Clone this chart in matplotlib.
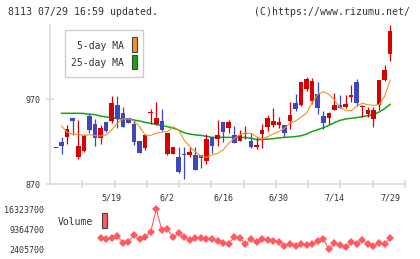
import numpy as np
import matplotlib
matplotlib.use("Agg")
import matplotlib.pyplot as plt
from matplotlib.patches import Rectangle
import matplotlib.transforms as mtransforms

# ---------------- data ----------------
opens = [913.0, 919.6, 925.9, 948.0, 902.3, 909.4, 950.3, 940.9, 924.7, 942.8,
         944.8, 963.3, 953.9, 948.0, 940.9, 920.8, 912.1, 953.5, 940.5, 944.8,
         905.9, 905.9, 901.5, 905.0, 904.3, 903.9, 904.7, 897.6, 925.1, 923.6,
         943.2, 936.5, 927.5, 921.2, 929.5, 920.8, 913.3, 929.5, 937.7, 939.7,
         939.3, 939.3, 944.8, 965.3, 962.9, 982.2, 968.0, 976.3, 950.3, 948.4,
         957.8, 963.3, 961.0, 972.8, 990.5, 960.6, 952.7, 947.2, 963.3, 992.8,
         1023.9]
highs = [913.0, 925.9, 939.7, 948.0, 945.6, 928.5, 953.5, 946.8, 939.7, 943.6,
         973.9, 973.9, 960.6, 948.0, 945.6, 920.8, 927.9, 958.6, 967.2, 958.6,
         930.3, 913.7, 914.1, 914.1, 913.3, 914.1, 904.7, 929.1, 925.1, 945.6,
         943.2, 945.6, 938.5, 933.8, 938.5, 929.9, 925.9, 940.9, 951.5, 959.4,
         948.7, 939.3, 966.9, 976.3, 990.5, 996.0, 994.8, 990.5, 956.2, 955.0,
         977.1, 975.1, 975.1, 986.9, 993.6, 963.3, 961.3, 960.6, 992.8, 1010.5,
         1057.8]
lows = [913.0, 905.5, 917.3, 927.9, 900.0, 907.8, 930.6, 915.3, 916.9, 931.4,
        941.7, 936.5, 936.9, 941.7, 916.5, 906.2, 910.2, 940.5, 939.3, 932.2,
        904.7, 905.9, 883.4, 876.3, 902.3, 886.6, 888.5, 893.7, 907.0, 914.9,
        920.0, 930.6, 918.8, 921.2, 923.6, 912.1, 911.0, 912.9, 933.0, 936.9,
        935.8, 925.1, 935.4, 956.6, 962.1, 980.2, 964.5, 952.7, 934.6, 940.5,
        957.8, 960.2, 959.4, 967.2, 962.1, 948.7, 948.7, 937.7, 957.4, 991.6,
        1015.7]
closes = [913.0, 914.9, 935.0, 944.8, 914.9, 927.9, 933.8, 924.0, 936.5, 932.2,
          965.7, 946.8, 936.9, 941.7, 920.0, 907.0, 927.9, 953.5, 948.4, 933.8,
          930.3, 913.7, 884.2, 904.3, 907.4, 886.6, 901.1, 923.2, 914.9, 927.9,
          931.8, 943.2, 918.8, 927.5, 929.5, 913.7, 916.1, 933.8, 948.0, 944.4,
          942.8, 930.6, 951.1, 958.6, 990.5, 993.6, 991.6, 960.2, 942.5, 953.5,
          963.3, 960.2, 964.5, 975.1, 966.1, 960.6, 957.4, 957.4, 992.8, 1004.6,
          1050.7]
ma5 = [np.nan, 938.5, 931.0, 928.7, 928.7, 927.1, 928.3, 927.1, 926.7, 927.9,
       933.8, 941.7, 946.8, 946.8, 944.4, 937.7, 927.9, 927.5, 929.9, 931.4,
       931.8, 937.7, 933.8, 922.0, 914.1, 908.2, 903.1, 901.5, 904.3, 906.2,
       910.2, 918.0, 924.0, 927.9, 929.9, 929.9, 925.9, 922.8, 925.9, 929.1,
       931.8, 935.8, 941.7, 944.4, 949.0, 954.0, 966.0, 976.0, 979.0, 976.0,
       969.0, 960.6, 956.6, 956.6, 962.1, 965.3, 963.7, 962.9, 963.7, 973.5,
       992.8]
ma25 = [np.nan, 953.5, 953.5, 953.5, 953.5, 953.3, 952.3, 952.0, 950.3, 949.1,
        948.7, 947.2, 947.0, 946.8, 945.6, 944.4, 942.8, 941.7, 940.5, 938.9,
        937.7, 936.2, 933.8, 930.5, 929.0, 928.0, 927.5, 926.3, 925.1, 925.1,
        925.1, 925.1, 925.1, 925.1, 925.0, 924.0, 922.5, 922.5, 923.0, 923.5,
        924.5, 925.0, 925.5, 926.0, 927.0, 929.0, 932.0, 934.2, 936.5, 939.3,
        942.5, 945.2, 946.8, 947.6, 948.4, 949.5, 950.7, 951.9, 955.0, 959.0,
        964.1]
vol_start = 8
volume = [6441920, 5990000, 6441920, 7030000, 4770000, 5050000, 7380000, 5890000,
          6580000, 8530000, 16323700, 9120000, 9470000, 6580000, 7970000, 6790000,
          5640000, 6230000, 6230000, 5890000, 5890000, 5400000, 4600000, 4250000,
          6790000, 6440000, 4250000, 5990000, 5050000, 5990000, 5640000, 5400000,
          5050000, 3660000, 4250000, 3660000, 4250000, 3900000, 4250000, 5400000,
          5990000, 2405700, 4490000, 3900000, 3100000, 5050000, 4250000, 5640000,
          4250000, 3660000, 4490000, 4250000, 6230000]
date_idx = [10, 20, 30, 40, 50, 60]
date_labels = ["5/19", "6/2", "6/16", "6/30", "7/14", "7/29"]
price_ticks = [870, 970]
vol_ticks = [2405700, 9364700, 16323700]
vol_tick_labels = ["2405700", "9364700", "16323700"]

# ---------------- style ----------------
W, H = 420, 259
UP = "#d70000"
DOWN = "#3f47bf"
ORANGE = "#f5911e"
GREEN = "#14a514"
VOLC = "#ff5a5f"
GRID = "#d9d9d9"
TXT = "#333333"
MONO = "DejaVu Sans Mono"

fig = plt.figure(figsize=(W / 100, H / 100), dpi=100)

def fx(px):
    return px / W

def fy(py):
    return 1 - py / H

# main price axes
ax = fig.add_axes([fx(50), fy(184), fx(355), 159 / H])
n = len(closes)
x = np.arange(n)
ax.set_xlim(-1.08, 62.66)
ax.set_ylim(870, 1057.8)

o = np.array(opens); c = np.array(closes)
hi = np.array(highs); lo = np.array(lows)
up = c >= o
cols = np.where(up, UP, DOWN)
ax.vlines(x, lo, hi, colors=cols, linewidth=0.9, zorder=3)
bottoms = np.minimum(o, c)
heights = np.maximum(np.abs(c - o), 1.2)
ax.bar(x, heights, bottom=bottoms, width=0.82, color=cols, linewidth=0, zorder=4)

ax.plot(x, ma25, color=GREEN, linewidth=1.1, zorder=2)
ax.plot(x, ma5, color=ORANGE, linewidth=0.8, zorder=5)

for s in ["top", "right"]:
    ax.spines[s].set_visible(False)
for s in ["left", "bottom"]:
    ax.spines[s].set_color(GRID)
    ax.spines[s].set_linewidth(1.1)
ax.set_yticks(price_ticks)
ax.set_yticklabels([str(v) for v in price_ticks])
xt = np.linspace(-1.08, 62.66, 12)[1:]
ax.set_xticks(xt)
ax.set_xticklabels([])
ax.tick_params(axis="both", direction="inout", length=6, width=1.1, color=GRID)
ax.tick_params(axis="y", labelsize=6, labelcolor=TXT, pad=4)
for lab in ax.get_yticklabels():
    lab.set_family(MONO)

trans = mtransforms.blended_transform_factory(ax.transData, fig.transFigure)
for i, lab in zip(date_idx, date_labels):
    ax.text(i, fy(198), lab, transform=trans, ha="center", va="center",
            fontsize=6, family=MONO, color=TXT)

# legend box for MAs
fig.patches.append(Rectangle((fx(65.3), fy(77.3)), fx(78), 47.3 / H,
                             transform=fig.transFigure, facecolor="white",
                             edgecolor="#cccccc", linewidth=1.0, zorder=10))
fig.text(fx(124), fy(46), "5-day MA", ha="right", va="center", fontsize=7,
         family=MONO, color=TXT, zorder=11)
fig.text(fx(124), fy(62.7), "25-day MA", ha="right", va="center", fontsize=7,
         family=MONO, color=TXT, zorder=11)
fig.patches.append(Rectangle((fx(131.7), fy(51.7)), fx(5), 14.5 / H,
                             transform=fig.transFigure, facecolor=ORANGE,
                             edgecolor="#444444", linewidth=0.8, zorder=11))
fig.patches.append(Rectangle((fx(131.7), fy(69)), fx(5), 14.5 / H,
                             transform=fig.transFigure, facecolor=GREEN,
                             edgecolor="#444444", linewidth=0.8, zorder=11))

# volume axes
vmin, vmax = vol_ticks[0], vol_ticks[-1]
per_px = (vmax - vmin) / 40.0
axv = fig.add_axes([fx(98), fy(253), fx(307), 48 / H])
axv.set_xlim(7.54, 62.66)
axv.set_ylim(vmin - 3.7 * per_px, vmax + 4.3 * per_px)
vx = np.arange(vol_start, vol_start + len(volume))
axv.plot(vx, volume, color=VOLC, linewidth=0.8, marker="D", markersize=4.3,
         markeredgewidth=0, clip_on=False)
for s in axv.spines.values():
    s.set_visible(False)
axv.set_xticks([])
axv.set_yticks(vol_ticks)
axv.set_yticklabels(vol_tick_labels)
axv.tick_params(axis="y", length=0, pad=(98 - 44.3) * 0.72, labelsize=6,
                labelcolor=TXT)
for lab in axv.get_yticklabels():
    lab.set_family(MONO)
axv.patch.set_alpha(0)

fig.text(fx(58), fy(222.3), "Volume", ha="left", va="center", fontsize=7,
         family=MONO, color=TXT)
fig.patches.append(Rectangle((fx(101.7), fy(228.3)), fx(5.6), 15 / H,
                             transform=fig.transFigure, facecolor=VOLC,
                             edgecolor="#444444", linewidth=0.8, zorder=11))

# header texts
fig.text(fx(8), fy(12), "8113 07/29 16:59 updated.", ha="left", va="center",
         fontsize=7.1, family=MONO, color=TXT)
fig.text(fx(410), fy(12), "(C)https://www.rizumu.net/", ha="right", va="center",
         fontsize=7.1, family=MONO, color=TXT)

fig.savefig("out.png", dpi=100)
